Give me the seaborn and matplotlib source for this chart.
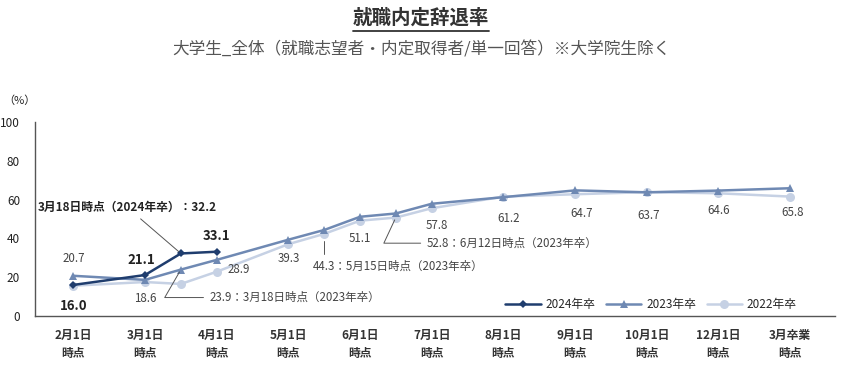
import numpy as np
import pandas as pd
import matplotlib
matplotlib.use('Agg')
import matplotlib.pyplot as plt
import seaborn as sns

sns.set_theme(style='white')
plt.rcParams['font.family'] = ['Noto Sans CJK JP', 'DejaVu Sans']

# tick categories and the survey points (3/18, 5/15, 6/12 sit halfway)
tick_labels = ['2月1日\n時点', '3月1日\n時点', '4月1日\n時点', '5月1日\n時点', '6月1日\n時点',
               '7月1日\n時点', '8月1日\n時点', '9月1日\n時点', '10月1日\n時点', '12月1日\n時点',
               '3月卒業\n時点']
point_names = ['2/1', '3/1', '3/18', '4/1', '5/1', '5/15', '6/1', '6/12', '7/1',
               '8/1', '9/1', '10/1', '12/1', '卒業']
point_pos = [0, 1, 1.5, 2, 3, 3.5, 4, 4.5, 5, 6, 7, 8, 9, 10]

grad_2024 = [16.0, 21.1, 32.2, 33.1] + [np.nan] * 10
grad_2023 = [20.7, 18.6, 23.9, 28.9, 39.3, 44.3, 51.1, 52.8, 57.8, 61.2, 64.7, 63.7, 64.6, 65.8]
grad_2022 = [15.6, 17.5, 16.5, 22.8, 37.0, 42.3, 49.1, 50.7, 55.5, 61.5, 62.7, 63.8, 63.2, 61.5]

df = pd.DataFrame({'pos': point_pos, 'point': point_names,
                   '2024年卒': grad_2024, '2023年卒': grad_2023, '2022年卒': grad_2022})

c24, c23, c22 = '#1f3d6e', '#6f89b3', '#c6d1e4'

fig = plt.figure(figsize=(8.42, 3.67), dpi=100)
ax = fig.add_axes([0.042, 0.139, 0.95, 0.529])

sns.lineplot(data=df, x='pos', y='2022年卒', ax=ax, color=c22, marker='o', markersize=6.5,
             markeredgewidth=0, linewidth=1.8, label='2022年卒')
sns.lineplot(data=df, x='pos', y='2023年卒', ax=ax, color=c23, marker='^', markersize=5.5,
             markeredgewidth=0, linewidth=1.8, label='2023年卒')
sns.lineplot(data=df.dropna(subset=['2024年卒']), x='pos', y='2024年卒', ax=ax, color=c24,
             marker='D', markersize=4.5, markeredgewidth=0, linewidth=1.8, label='2024年卒')

ax.set_xlim(-0.53, 10.63)
ax.set_ylim(0, 100)
ax.set_yticks(range(0, 101, 20))
ax.set_xticks(range(len(tick_labels)))
ax.set_xticklabels(tick_labels, fontsize=8.5, fontweight='bold', color='#333333', linespacing=1.5)
ax.tick_params(axis='y', labelsize=8.5, colors='#222222', length=0, pad=11)
ax.tick_params(axis='x', length=0, pad=9)
ax.set_xlabel('')
ax.set_ylabel('')
for s in ['top', 'right']:
    ax.spines[s].set_visible(False)
for s in ['left', 'bottom']:
    ax.spines[s].set_color('#555555')
    ax.spines[s].set_linewidth(1.0)

# legend order: 2024, 2023, 2022
h, l = ax.get_legend_handles_labels()
ax.legend([h[2], h[1], h[0]], [l[2], l[1], l[0]], loc='lower right', ncol=3, frameon=False,
          fontsize=8.5, handlelength=3.0, handletextpad=0.4, columnspacing=0.9,
          bbox_to_anchor=(0.965, -0.03))

txt = dict(fontsize=8.3, color='#444444')
bold = dict(fontsize=9.5, color='#222222', fontweight='bold')

# 2023 value labels
lab23 = {'2/1': (0, 8, 'center', 'bottom'), '3/1': (0, -9, 'center', 'top'),
         '4/1': (8, -2, 'left', 'top'), '5/1': (0, -9, 'center', 'top'),
         '6/1': (0, -11, 'center', 'top'), '7/1': (4, -11, 'center', 'top'),
         '8/1': (4, -11, 'center', 'top'), '9/1': (5, -12, 'center', 'top'),
         '10/1': (1, -12, 'center', 'top'), '12/1': (0, -10, 'center', 'top'),
         '卒業': (2, -13, 'center', 'top')}
for _, r in df.iterrows():
    if r['point'] in lab23:
        dx, dy, ha, va = lab23[r['point']]
        ax.annotate(f"{r['2023年卒']:.1f}", (r['pos'], r['2023年卒']), xytext=(dx, dy),
                    textcoords='offset points', ha=ha, va=va, **txt)

# 2024 value labels
lab24 = {'2/1': (0, -10, 'center', 'top'), '3/1': (-3, 6, 'center', 'bottom'),
         '4/1': (0, 6, 'center', 'bottom')}
for _, r in df.iterrows():
    if r['point'] in lab24:
        dx, dy, ha, va = lab24[r['point']]
        ax.annotate(f"{r['2024年卒']:.1f}", (r['pos'], r['2024年卒']), xytext=(dx, dy),
                    textcoords='offset points', ha=ha, va=va, **bold)

# callouts for the intermediate survey points
lead = dict(arrowstyle='-', color='#555555', lw=0.7)
p = df.set_index('point')
ax.annotate('3月18日時点（2024年卒）：32.2', (p.loc['3/18', 'pos'], p.loc['3/18', '2024年卒']),
            xytext=(2.0, 56), ha='right', va='center', arrowprops=lead,
            fontsize=8.5, color='#222222', fontweight='bold')
ax.annotate('23.9：3月18日時点（2023年卒）', (p.loc['3/18', 'pos'], p.loc['3/18', '2023年卒']),
            xytext=(1.9, 9.5), ha='left', va='center',
            arrowprops=dict(lead, connectionstyle='angle,angleA=0,angleB=60,rad=0'), **txt)
ax.annotate('44.3：5月15日時点（2023年卒）', (p.loc['5/15', 'pos'], p.loc['5/15', '2023年卒'] - 4),
            xytext=(3.34, 25.5), ha='left', va='center',
            arrowprops=dict(lead, connectionstyle='angle,angleA=0,angleB=90,rad=0'), **txt)
ax.annotate('52.8：6月12日時点（2023年卒）', (p.loc['6/12', 'pos'], p.loc['6/12', '2023年卒'] - 2),
            xytext=(4.93, 37.5), ha='left', va='center',
            arrowprops=dict(lead, connectionstyle='angle,angleA=0,angleB=65,rad=0'), **txt)

fig.text(0.004, 0.725, '（%）', fontsize=8, color='#222222', ha='left', va='center')
t = fig.text(0.5, 0.95, '就職内定辞退率', fontsize=14, fontweight='bold', color='#333333',
             ha='center', va='center')
fig.canvas.draw()
bb = t.get_window_extent().transformed(fig.transFigure.inverted())
fig.add_artist(plt.Line2D([bb.x0, bb.x1], [bb.y0 - 0.008, bb.y0 - 0.008], color='#333333', lw=1.3,
                          transform=fig.transFigure))
fig.text(0.5, 0.865, '大学生_全体（就職志望者・内定取得者/単一回答）※大学院生除く', fontsize=12,
         color='#555555', ha='center', va='center')

fig.savefig('out.png', dpi=100)
